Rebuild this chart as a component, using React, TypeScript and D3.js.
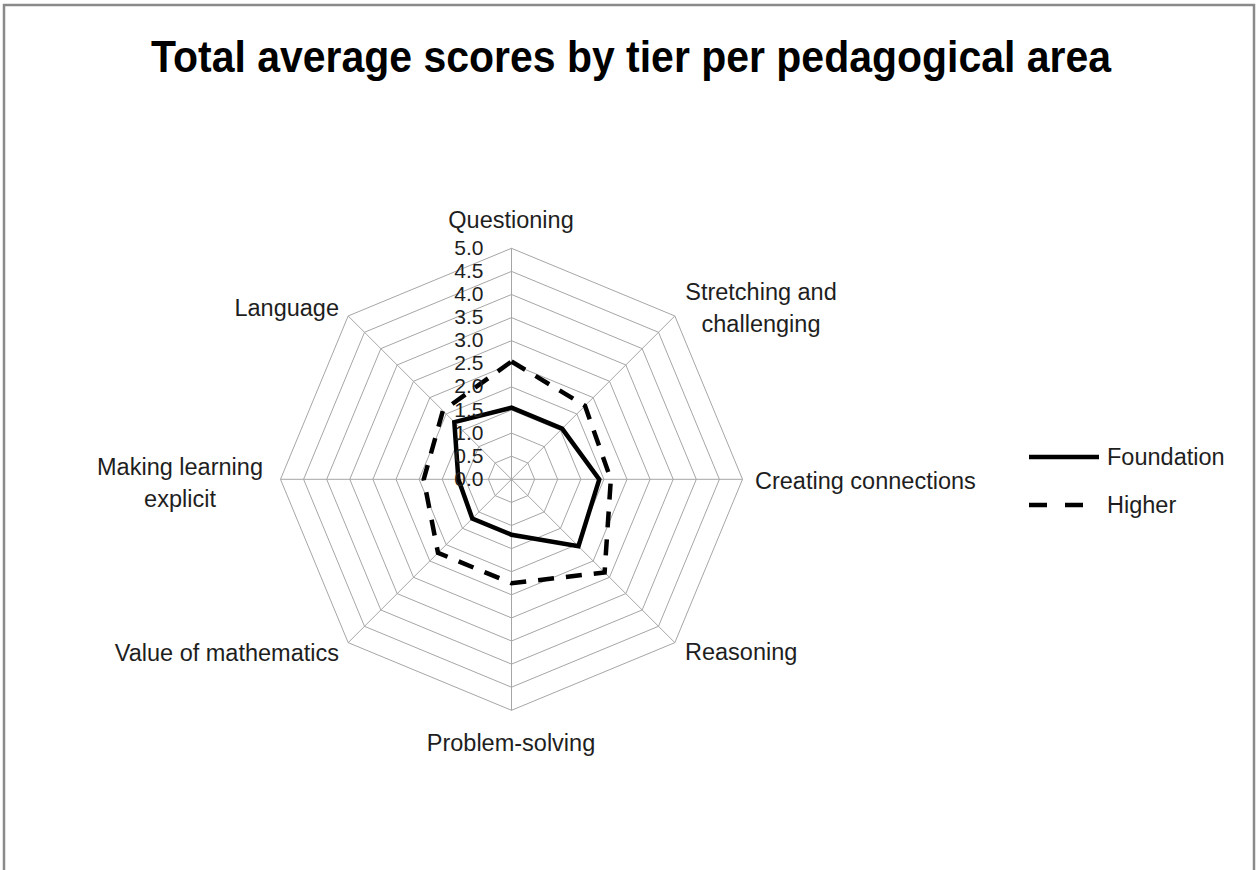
import React from 'react';
import * as d3 from 'd3';

const areas = [
  'Questioning',
  'Stretching and challenging',
  'Creating connections',
  'Reasoning',
  'Problem-solving',
  'Value of mathematics',
  'Making learning explicit',
  'Language',
];
const foundation = [1.55, 1.55, 1.9, 2.05, 1.2, 1.2, 1.15, 1.75];
const higher = [2.55, 2.25, 2.15, 2.85, 2.25, 2.25, 1.9, 2.1];
const ticks = [0, 0.5, 1, 1.5, 2, 2.5, 3, 3.5, 4, 4.5, 5];

const W = 1258, H = 870;
const cx = 511.5, cy = 479.3, R = 231;
const font = '"Liberation Sans", Arial, sans-serif';

// where each axis label sits
const labelPos: { [k: string]: { x: number; y: number; anchor: string; lines: string[] } } = {
  'Questioning': { x: 511, y: 228, anchor: 'middle', lines: ['Questioning'] },
  'Stretching and challenging': { x: 761, y: 300, anchor: 'middle', lines: ['Stretching and', 'challenging'] },
  'Creating connections': { x: 755, y: 489, anchor: 'start', lines: ['Creating connections'] },
  'Reasoning': { x: 685, y: 660, anchor: 'start', lines: ['Reasoning'] },
  'Problem-solving': { x: 511, y: 751, anchor: 'middle', lines: ['Problem-solving'] },
  'Value of mathematics': { x: 339, y: 661, anchor: 'end', lines: ['Value of mathematics'] },
  'Making learning explicit': { x: 180, y: 475, anchor: 'middle', lines: ['Making learning', 'explicit'] },
  'Language': { x: 339, y: 316, anchor: 'end', lines: ['Language'] },
};

export default function App() {
  const r = d3.scaleLinear().domain([0, 5]).range([0, R]);
  const angle = d3.scaleLinear().domain([0, areas.length]).range([0, 2 * Math.PI]);

  const radar = d3.lineRadial<number>()
    .angle((_, i) => angle(i))
    .radius(d => r(d))
    .curve(d3.curveLinearClosed);

  return (
    <svg width={W} height={H} style={{ position: 'absolute', left: 0, top: 0 }}>
      <rect x={0} y={0} width={W} height={H} fill="#fff" />
      <rect x={4} y={5} width={1250} height={900} fill="none" stroke="#8a8a8a" strokeWidth={2.5} />

      <text x={631} y={72} textAnchor="middle" fontFamily={'"Liberation Sans Narrow", ' + font}
        fontWeight="bold" fontSize={45} fill="#000" textLength={960} lengthAdjust="spacingAndGlyphs">
        Total average scores by tier per pedagogical area
      </text>

      <g transform={`translate(${cx},${cy})`}>
        {ticks.slice(1).map(t => (
          <path key={t} d={radar(areas.map(() => t)) || ''} fill="none" stroke="#a6a6a6" strokeWidth={1} />
        ))}
        {areas.map((a, i) => {
          const x = Math.sin(angle(i)) * r(5);
          const y = -Math.cos(angle(i)) * r(5);
          return <line key={a} x1={0} y1={0} x2={x} y2={y} stroke="#a6a6a6" strokeWidth={1} />;
        })}
        <path d={radar(foundation) || ''} fill="none" stroke="#000" strokeWidth={4.5} />
        <path d={radar(higher) || ''} fill="none" stroke="#000" strokeWidth={4.5} strokeDasharray="16,12" />
        {ticks.map(t => (
          <text key={t} x={-28} y={-r(t) + 1} textAnchor="end" dominantBaseline="middle"
            fontFamily={font} fontSize={21} fill="#1e1e1e">
            {t.toFixed(1)}
          </text>
        ))}
      </g>

      {areas.map(a => {
        const p = labelPos[a];
        return (
          <text key={a} x={p.x} y={p.y} textAnchor={p.anchor} fontFamily={font} fontSize={23.5} fill="#1e1e1e">
            {p.lines.map((l, j) => (
              <tspan key={j} x={p.x} dy={j === 0 ? 0 : 32}>{l}</tspan>
            ))}
          </text>
        );
      })}

      <g fontFamily={font} fontSize={23.5} fill="#1e1e1e">
        <line x1={1029} x2={1099} y1={457} y2={457} stroke="#000" strokeWidth={4.5} />
        <text x={1107} y={465}>Foundation</text>
        <line x1={1029} x2={1083} y1={505} y2={505} stroke="#000" strokeWidth={4.5} strokeDasharray="18,18" />
        <text x={1107} y={513}>Higher</text>
      </g>
    </svg>
  );
}
